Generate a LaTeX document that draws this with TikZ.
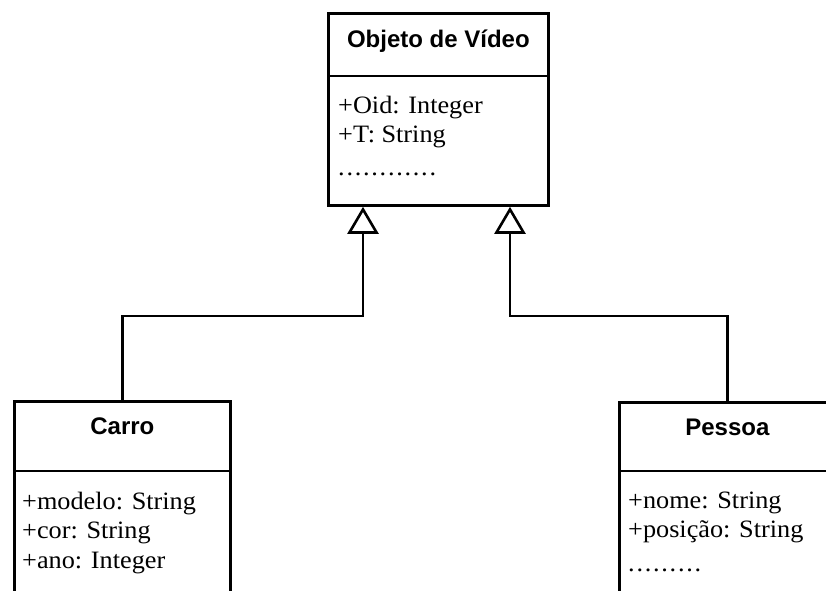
\documentclass[tikz,border=0pt]{standalone}
\usepackage{fontspec}
\setmainfont{Liberation Serif}[FakeStretch=1.05]
\newfontfamily\hdfont{Liberation Sans}
\usetikzlibrary{arrows.meta,calc}
\newcommand{\dotrow}[1]{\foreach \i in {1,...,#1}{\makebox[8.3pt][l]{.}}}
\tikzset{
  box/.style={draw, line width=2.8pt, inner sep=0pt, anchor=north west},
  div/.style={line width=2.8pt},
  hd/.style={font=\hdfont\bfseries\fontsize{24}{28}\selectfont, anchor=base, inner sep=0pt},
  attr/.style={font=\fontsize{25}{30}\selectfont, anchor=base west, inner sep=0pt},
  gen/.style={line width=2.6pt, -{Triangle[open, length=27pt, width=31pt, line width=2.6pt]}}
}
\begin{document}
\begin{tikzpicture}[x=1pt, y=-1pt]
\useasboundingbox (0,0) rectangle (826,590);
\clip (0,0) rectangle (826,590);
% boxes
\node[box, minimum width=220pt, minimum height=192pt] (obj) at (327,12) {};
\node[box, minimum width=216pt, minimum height=230pt] (carro) at (13,400) {};
\node[box, minimum width=216pt, minimum height=230pt] (pessoa) at (618,401) {};
% dividers
\draw[div] ($(obj.north west)+(0,64)$) -- ($(obj.north east)+(0,64)$);
\draw[div] ($(carro.north west)+(0,71)$) -- ($(carro.north east)+(0,71)$);
\draw[div] ($(pessoa.north west)+(0,70)$) -- ($(pessoa.north east)+(0,70)$);
% headers
\node[hd] (objh) at ($(obj.north)+(0,35)$) {Objeto de Vídeo};
\node[hd] (carroh) at ($(carro.north)+(0,34)$) {Carro};
\node[hd] (pessoah) at ($(pessoa.north)+(0,34)$) {Pessoa};
% attributes
\node[attr] (o1) at (338,113) {+Oid: Integer};
\node[attr] (o2) at (338,142) {+T: String};
\node[attr] (o3) at (338,175) {\dotrow{12}};
\node[attr] (c1) at (22,509) {+modelo: String};
\node[attr] (c2) at (22,538) {+cor: String};
\node[attr] (c3) at (22,568) {+ano: Integer};
\node[attr] (p1) at (628,508) {+nome: String};
\node[attr] (p2) at (628,537) {+posição: String};
\node[attr] (p3) at (628,571) {\dotrow{9}};
% connectors
\coordinate (t1) at ($(obj.south west)+(36,0)$);
\coordinate (t2) at ($(obj.south west)+(183,0)$);
\draw[gen] (carro.north) |- (t1 |- 0,316) -- (t1);
\draw[gen] (pessoa.north) |- (t2 |- 0,316) -- (t2);
\end{tikzpicture}
\end{document}
